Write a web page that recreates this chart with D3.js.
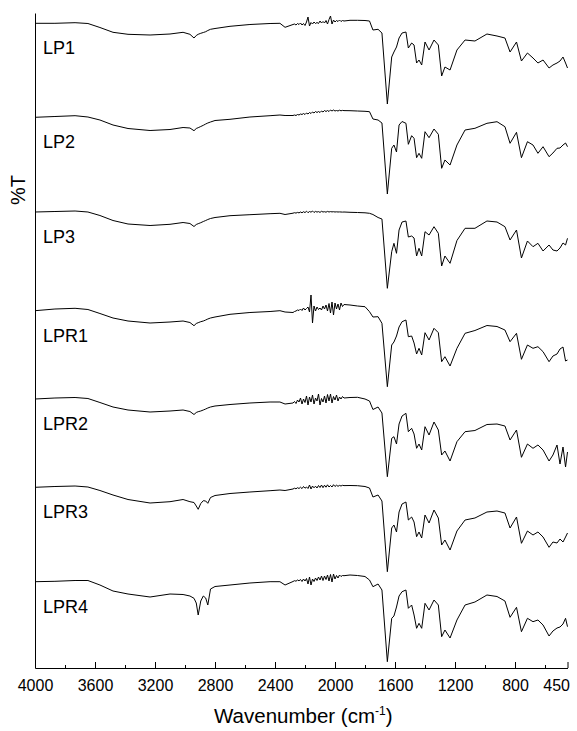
<!DOCTYPE html>
<html>
<head>
<meta charset="utf-8">
<script src="https://cdn.jsdelivr.net/npm/d3@7"></script>
<style>
  body { margin: 0; background: #fff; }
  svg { display: block; font-family: "Liberation Sans", Arial, sans-serif; }
</style>
</head>
<body>
<svg id="chart" width="577" height="731"></svg>
<script>
// wavenumber grid (cm-1), shared by all spectra
var wn = [4000, 3867, 3733, 3647, 3567, 3480, 3380, 3233, 3100, 3013,
  2967, 2940, 2925, 2912, 2895, 2878, 2862, 2848, 2830, 2800,
  2700, 2567, 2433, 2367, 2333,
  2280, 2270, 2260, 2250, 2240, 2230, 2220, 2210, 2200, 2190,
  2180, 2170, 2160, 2150, 2140, 2130, 2120, 2110, 2100, 2090,
  2080, 2070, 2060, 2050, 2040, 2030, 2020, 2010, 2000, 1990,
  1980, 1970, 1960, 1950, 1940,
  1900, 1850, 1800, 1770,
  1747, 1713, 1687, 1651, 1622, 1607, 1590, 1573, 1553, 1527,
  1511, 1489, 1473, 1456, 1440, 1422, 1400, 1373, 1340, 1311,
  1289, 1267, 1233, 1187, 1133, 1067, 987, 920, 867, 833,
  790, 757, 717, 680, 647, 613, 573, 547, 520, 500,
  480, 463, 450];

var samples = ["LP1", "LP2", "LP3", "LPR1", "LPR2", "LPR3", "LPR4"];

// %T for each sample
var LP1 = [86.7, 86.7, 87.3, 86.5, 82.5, 77.7, 75.7, 75, 76, 77.7,
  75.7, 72, 74.5, 75.7, 76.7, 77.5, 78.3, 79.5, 80.7, 81.5,
  83.7, 85.5, 86.5, 86.7, 82.7,
  85.5, 86, 85, 86.5, 85.5, 87, 85, 86.5, 84.5, 88,
  93, 84, 87.5, 86, 88, 86.5, 87.5, 86.5, 89, 87,
  88.5, 87, 89.5, 86, 90.5, 94, 86, 90, 88, 89.5,
  88.5, 90, 88.5, 89.5, 89,
  89.7, 89.7, 89.5, 89,
  80, 80.7, 77, 6, 53, 58, 63, 72, 77, 78,
  62, 67, 65, 47, 50, 45, 68, 60, 70, 65,
  34, 43, 40, 60, 70, 69, 76, 74, 72, 58,
  68, 49, 57, 52, 47, 50, 42, 45, 47, 49,
  53, 47, 42];
var LP2 = [85.7, 86.5, 87.3, 86, 83, 78, 74.5, 72.5, 73.5, 75.5,
  75, 72.3, 74.5, 75.3, 76.5, 77.7, 79, 80, 81, 82.5,
  83.7, 86, 87.3, 88, 87.5,
  87.5, 88, 87.5, 88.5, 88, 89, 88.5, 89.5, 88.5, 90,
  89, 90.5, 89.5, 91, 90, 91.5, 90.5, 91.5, 90.5, 92,
  91, 92.5, 91.5, 92.5, 91.5, 93, 92, 93, 92, 92.5,
  92, 92.8, 92.2, 92.6, 92.4,
  92.3, 92, 91.7, 91.3,
  84, 83, 80, 9, 54.7, 58, 51, 78, 81.5, 79.7,
  58.7, 67.3, 64.7, 45.3, 49.7, 44.7, 71.3, 65.3, 74, 68.7,
  34.7, 43, 38, 58, 73, 74.7, 79.7, 81.3, 76.3, 59.7,
  70.7, 45.3, 61.3, 58, 49.7, 56.3, 46.3, 50, 54.7, 55,
  58, 60, 56.3];
var LP3 = [84, 84.5, 85, 84, 80.5, 75.5, 72, 70.5, 71.7, 73.5,
  72.5, 69.5, 71.5, 72.3, 73.3, 74.5, 75.5, 76.5, 77.5, 78.5,
  80.3, 81.3, 82.3, 82.7, 81.5,
  82.8, 83.3, 82.9, 83.6, 83.1, 84, 83.2, 84.3, 83.4, 84.8,
  83.3, 84.5, 83.8, 85, 83.5, 84.6, 83.9, 84.4, 83.6, 84.7,
  84, 84.3, 83.8, 84.6, 84, 84.4, 84.1, 84.3, 84, 84.2,
  84, 84.1, 84, 83.9, 84,
  83.7, 83.5, 83.2, 82.7,
  81.5, 78.5, 77, 7.7, 44.3, 52.7, 42.7, 66, 74, 75,
  59, 60, 58, 40, 47.7, 40, 64.3, 61, 69.3, 62.7,
  30, 40, 32.7, 55.5, 67.7, 67.7, 75, 74, 69.3, 56,
  66, 38, 55, 49.3, 52.7, 45, 51, 46, 45, 48,
  53, 51, 57.7];
var LPR1 = [78.3, 80, 80.7, 79.5, 75.5, 71, 68, 66, 67, 68,
  66.5, 63.3, 65.5, 66.3, 67.3, 68, 69, 70, 71, 72,
  74.7, 76.5, 77.5, 78.3, 77,
  76.5, 77.5, 78, 79, 78.5, 80, 78.5, 81, 79, 80.5,
  82, 77, 94, 66, 83, 78, 82, 79.5, 81, 79,
  83, 80, 84, 78, 85.5, 76, 87, 74, 86, 80,
  85, 79, 86, 82.5, 84.5,
  84, 83, 82.3, 77.3,
  72, 72.3, 65.7, 2.3, 44, 47, 53, 62, 67.3, 69,
  52.3, 53, 46, 35, 40.7, 34, 56.3, 49, 60.7, 56.3,
  27.3, 32.3, 23, 40.7, 55.7, 58.5, 63.5, 62.5, 59, 47.3,
  55.7, 29.7, 44, 40.7, 42.3, 37.3, 27.3, 33, 35, 40,
  42, 28, 29];
var LPR2 = [83, 84, 84.5, 83.5, 79.5, 75, 72, 70, 71, 72,
  70.5, 67.5, 69.5, 70.3, 71, 72, 73, 74, 75, 76,
  77.5, 79, 80, 80, 78,
  79, 80.5, 78.5, 82, 80, 84, 78, 83, 79.5, 86,
  77, 85, 80, 87, 78, 84, 81, 88, 77, 83.5,
  80, 86, 79, 87.5, 81, 88, 79, 85.5, 82, 87,
  81, 85, 83, 85.5, 84,
  84.5, 84.7, 83, 81,
  72.5, 75, 69, 5.3, 43.7, 45.3, 38, 58, 66, 68.7,
  50.3, 53.7, 48, 33.7, 38, 32, 55.3, 47, 60, 52,
  27, 31, 21, 40.3, 50.3, 51.5, 57.5, 58, 56, 42,
  52, 24.7, 38, 33.7, 37, 32, 21, 27, 37, 18,
  35, 15, 30];
var LPR3 = [87.7, 88.5, 89, 88, 84.5, 80, 75.5, 72, 73.3, 75.5,
  73.3, 72.5, 69, 65.7, 71.5, 74.3, 74, 71.7, 77.5, 79.5,
  81.5, 83, 84.3, 85, 84.5,
  86, 86.8, 86.2, 87.3, 86.5, 87.8, 86.4, 88.5, 86.8, 88,
  86.5, 90, 86, 89, 87.2, 88.8, 87, 89.5, 87.5, 90,
  87.3, 89.8, 87.8, 90.2, 88, 89.5, 88, 90.3, 88.5, 89.8,
  88.7, 89.6, 89, 89.7, 89.4,
  89.5, 89.3, 88.5, 87,
  78, 80, 74, 3.3, 47, 50, 43, 63, 71, 73,
  55, 58, 53, 38.3, 43, 37, 60, 52, 65, 57,
  30, 35, 25, 44, 55, 57, 63, 64, 62, 47,
  58, 31.7, 44, 40, 43, 38, 27.7, 33, 32, 36,
  33, 38, 42];
var LPR4 = [86.3, 86.7, 87.5, 87.5, 83, 77, 74, 71, 74, 73.5,
  72, 69.7, 65, 53, 67, 72, 70, 63, 79, 81.5,
  83, 85, 86.3, 86.3, 83,
  86.5, 87.3, 86.8, 88, 87.2, 88.5, 86.5, 89, 87, 89.5,
  84, 91, 83, 89, 86.5, 90, 87.5, 91, 88, 92,
  87.5, 92, 88.5, 93, 87, 93.5, 86, 94, 89, 92.5,
  90, 93, 91.5, 92.5, 92.3,
  93, 92.5, 91.5, 88,
  81.3, 84, 78, 6.3, 49.7, 52, 61, 72, 76.3, 78,
  59.7, 63, 53, 39.7, 44.7, 39.7, 64.7, 58, 68, 63,
  31.3, 38, 30, 48, 63, 66, 73, 71.5, 67, 50.7,
  60.7, 36.3, 49.7, 46.3, 48, 43, 32, 37, 40, 41,
  44, 49.7, 41.3];

var spectra = [LP1, LP2, LP3, LPR1, LPR2, LPR3, LPR4];

var majorTicks = [4000, 3600, 3200, 2800, 2400, 2000, 1600, 1200, 800, 450];
var minorTicks = [3800, 3400, 3000, 2600, 2200, 1800, 1400, 1000, 600];

var svg = d3.select('#chart');
var plotLeft = 35, plotRight = 567.5, plotTop = 13, plotBottom = 668;
var step = 93; // vertical shift between stacked spectra

var x = d3.scaleLinear().domain([4000, 450]).range([plotLeft, plotRight]);
var y = d3.scaleLinear().domain([0, plotBottom - plotTop]).range([plotBottom, plotTop]);

var line = d3.line()
  .x(function(d) { return x(d[0]); })
  .y(function(d) { return y(d[1]); });

spectra.forEach(function(vals, i) {
  var shift = step * (spectra.length - 1 - i);
  var pts = wn.map(function(w, j) { return [w, vals[j] + shift]; });
  svg.append('path')
    .attr('d', line(pts))
    .attr('fill', 'none')
    .attr('stroke', '#000')
    .attr('stroke-width', 1)
    .attr('stroke-linejoin', 'round');
  svg.append('text')
    .attr('x', plotLeft + 8)
    .attr('y', y(vals[0] + shift) + 31)
    .attr('font-size', 18)
    .text(samples[i]);
});

// bottom axis, ticks pointing inwards
var xAxis = svg.append('g')
  .attr('transform', 'translate(0,' + plotBottom + ')')
  .call(d3.axisBottom(x).tickValues(majorTicks).tickFormat(d3.format('d'))
    .tickSizeInner(-6).tickSizeOuter(0).tickPadding(12));
xAxis.selectAll('text').attr('font-size', 16).attr('fill', '#000').style('font-family', 'inherit');
// last label sits inside the right end, as in the original
xAxis.selectAll('.tick text').filter(function(d) { return d === 450; })
  .attr('text-anchor', 'end').attr('x', 2);

svg.append('g')
  .attr('transform', 'translate(0,' + plotBottom + ')')
  .call(d3.axisBottom(x).tickValues(minorTicks).tickFormat('')
    .tickSizeInner(-3).tickSizeOuter(0))
  .select('.domain').remove();

svg.append('g')
  .attr('transform', 'translate(' + plotLeft + ',0)')
  .call(d3.axisLeft(y).tickValues([]).tickSizeOuter(0));

svg.selectAll('.domain, .tick line').attr('stroke', '#000');

var title = svg.append('text')
  .attr('x', (plotLeft + plotRight) / 2 + 2)
  .attr('y', 723)
  .attr('text-anchor', 'middle')
  .attr('font-size', 20.5);
title.append('tspan').text('Wavenumber (cm');
title.append('tspan').attr('font-size', 12).attr('dy', -8).text('-1');
title.append('tspan').attr('dy', 8).text(')');

svg.append('text')
  .attr('transform', 'translate(25,190) rotate(-90)')
  .attr('text-anchor', 'middle')
  .attr('font-size', 20)
  .text('%T');
</script>
</body>
</html>
